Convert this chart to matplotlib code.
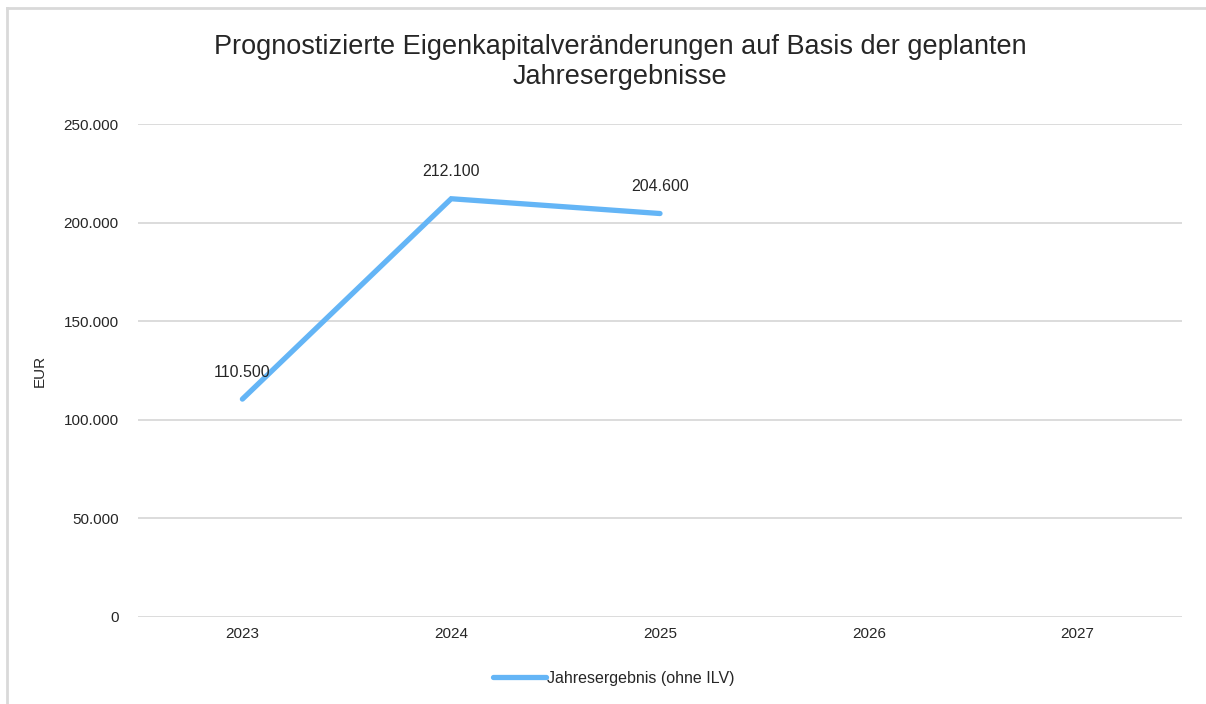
import matplotlib
matplotlib.use("Agg")
import matplotlib.pyplot as plt
from matplotlib.lines import Line2D
from matplotlib.ticker import FuncFormatter

plt.rcParams['font.family'] = ['Liberation Sans', 'DejaVu Sans']

categories = ["2023", "2024", "2025", "2026", "2027"]
values = [110500, 212100, 204600]
series_name = "Jahresergebnis (ohne ILV)"
title = "Prognostizierte Eigenkapitalveränderungen auf Basis der geplanten\nJahresergebnisse"
yticks = [0, 50000, 100000, 150000, 200000, 250000]

W, H = 1206, 704
fig = plt.figure(figsize=(W/100, H/100), dpi=100)
ax = fig.add_axes([138/W, 1-617/H, (1182-138)/W, (617-124)/H])

# outer chart border (top and left edges visible)
fig.lines.append(Line2D([7/W, 1.0], [1-8/H, 1-8/H], transform=fig.transFigure,
                        color='#d9d9d9', linewidth=2))
fig.lines.append(Line2D([7/W, 7/W], [0.0, 1-8/H], transform=fig.transFigure,
                        color='#d9d9d9', linewidth=2))

line_color = '#64B5F6'
xs = list(range(len(values)))
ax.plot(xs, values, color=line_color, linewidth=3.8, solid_capstyle='round',
        solid_joinstyle='miter', label=series_name)
for x, v in zip(xs, values):
    ax.annotate(f"{v:,}".replace(",", "."), (x, v), xytext=(0, 14), textcoords='offset points',
                ha='center', va='bottom', fontsize=11.5, color='#262626')

ax.set_xlim(-0.5, len(categories)-0.5)
ax.set_ylim(0, 250000)
ax.set_xticks(range(len(categories)))
ax.set_xticklabels(categories)
ax.set_yticks(yticks)
ax.yaxis.set_major_formatter(FuncFormatter(lambda v, p: f"{int(v):,}".replace(",", ".")))
ax.grid(axis='y', color='#d9d9d9', linewidth=1.3)
ax.set_axisbelow(True)
for s in ax.spines.values():
    s.set_visible(False)
ax.tick_params(length=0, labelsize=11, colors='#262626', pad=7)
ax.tick_params(axis='y', pad=14)
ax.set_ylabel("EUR", fontsize=11, color='#262626', labelpad=12)

fig.text(620/W, 1-62/H, title, ha='center', va='center', fontsize=19.5, color='#262626',
         linespacing=1.2)

leg = fig.legend(loc='center', bbox_to_anchor=(614/W, 1-678/H), frameon=False,
                 fontsize=11.5, handlelength=3.3, handletextpad=0.1)
for t in leg.get_texts():
    t.set_color('#262626')

fig.savefig("out.png", dpi=100, facecolor='white', edgecolor='none')
